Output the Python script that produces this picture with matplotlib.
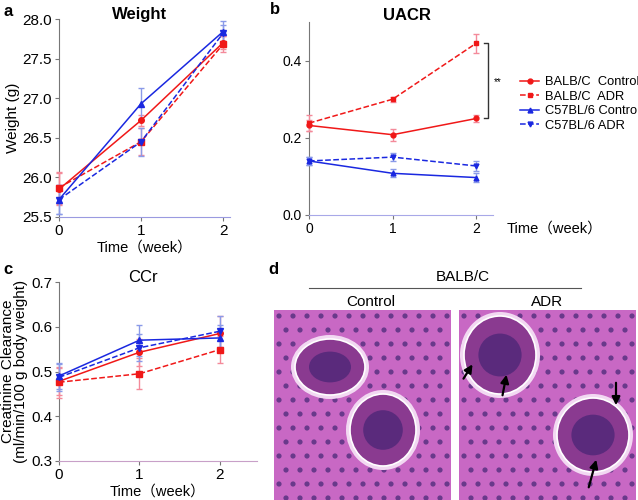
import matplotlib
matplotlib.use("Agg")
import matplotlib.pyplot as plt
from matplotlib.patches import Ellipse, Rectangle, Circle
from matplotlib.lines import Line2D

plt.rcParams['font.family'] = ['Liberation Sans', 'Noto Sans CJK SC', 'DejaVu Sans']

# ---- data ----
weeks = [0, 1, 2]
groups = ["BALB/C  Control", "BALB/C  ADR", "C57BL/6 Control", "C57BL/6 ADR"]

weight = [[25.85, 26.72, 27.70],
          [25.87, 26.45, 27.68],
          [25.72, 26.93, 27.84],
          [25.72, 26.45, 27.82]]
weight_err = [[0.20, 0.07, 0.08],
              [0.20, 0.17, 0.10],
              [0.18, 0.20, 0.14],
              [0.18, 0.18, 0.10]]

uacr = [[0.232, 0.208, 0.250],
        [0.238, 0.300, 0.445],
        [0.140, 0.108, 0.097],
        [0.140, 0.150, 0.127]]
uacr_err = [[0.015, 0.015, 0.008],
            [0.020, 0.006, 0.025],
            [0.010, 0.010, 0.012],
            [0.010, 0.010, 0.012]]

ccr = [[0.478, 0.543, 0.585],
       [0.476, 0.495, 0.549],
       [0.490, 0.570, 0.575],
       [0.487, 0.553, 0.590]]
ccr_err = [[0.030, 0.030, 0.040],
           [0.035, 0.035, 0.030],
           [0.030, 0.035, 0.030],
           [0.030, 0.030, 0.035]]

colors = ["#f01818", "#f01818", "#1a28e0", "#1a28e0"]
ecolors = ["#f48a9a", "#f48a9a", "#8a9ae8", "#8a9ae8"]
styles = ["-", "--", "-", "--"]
markers = ["o", "s", "^", "v"]

W, H = 638, 500
TIME = "Time\uff08week\uff09"


def box(x0, y0, x1, y1):
    # pixel box -> figure fractions
    return [x0 / W, 1 - y1 / H, (x1 - x0) / W, (y1 - y0) / H]


def fig_text(x, y, s, **kw):
    fig.text(x / W, 1 - y / H, s, ha=kw.pop("ha", "center"), va=kw.pop("va", "center"), **kw)


def draw_lines(ax, vals, errs, ms=4):
    for i in range(4):
        ax.errorbar(weeks, vals[i], yerr=errs[i], color=colors[i], ecolor=ecolors[i],
                    ls=styles[i], lw=1.1, marker=markers[i], ms=ms, capsize=2.5,
                    elinewidth=1.0, clip_on=False, zorder=3, label=groups[i])


def style_axes(ax, bottom_color, fs):
    for s in ["top", "right"]:
        ax.spines[s].set_visible(False)
    ax.spines["left"].set_color("#777777")
    ax.spines["bottom"].set_color(bottom_color)
    ax.tick_params(direction="out", length=3, labelsize=fs, color="#777777", pad=2)
    ax.set_xticks([0, 1, 2])


fig = plt.figure(figsize=(6.38, 5.0), dpi=100)

# ---- a: weight ----
ax_a = fig.add_axes(box(59, 19, 230, 217))
draw_lines(ax_a, weight, weight_err)
ax_a.set_xlim(0, 2.085)
ax_a.set_ylim(25.5, 28.0)
ax_a.set_yticks([25.5, 26.0, 26.5, 27.0, 27.5, 28.0])
ax_a.set_yticklabels(["25.5", "26.0", "26.5", "27.0", "27.5", "28.0"])
style_axes(ax_a, "#9a9ae0", 11)
fig_text(140, 15, "Weight", fontsize=12, fontweight="bold")
ax_a.set_ylabel("Weight (g)", fontsize=11, labelpad=2)
ax_a.set_xlabel(TIME, fontsize=10.5, labelpad=2)

# ---- b: UACR ----
ax_b = fig.add_axes(box(309, 22, 493, 215))
draw_lines(ax_b, uacr, uacr_err, ms=3.5)
ax_b.set_xlim(0, 2.2)
ax_b.set_ylim(0, 0.5)
ax_b.set_yticks([0.0, 0.2, 0.4])
ax_b.set_yticklabels(["0.0", "0.2", "0.4"])
style_axes(ax_b, "#a8a8e8", 10)
fig_text(407, 15, "UACR", fontsize=12, fontweight="bold")
fig_text(507, 229, TIME, fontsize=10.5, ha="left")
# significance bracket
bx = 2.14
ax_b.plot([bx - 0.05, bx, bx, bx - 0.05], [uacr[1][2], uacr[1][2], uacr[0][2], uacr[0][2]],
          color="#333333", lw=1.0, clip_on=False)
ax_b.text(bx + 0.07, (uacr[1][2] + uacr[0][2]) / 2 - 0.003, "**", fontsize=7,
          ha="left", va="center", clip_on=False)

leg_handles = [Line2D([], [], color=colors[i], ls=styles[i], marker=markers[i], ms=3.5, lw=1.1)
               for i in range(4)]
fig.legend(leg_handles, groups, loc="upper left", bbox_to_anchor=(520 / W, 1 - 76 / H),
           frameon=False, fontsize=9.3, handlelength=1.5, handletextpad=0.4,
           labelspacing=0.2, borderaxespad=0, borderpad=0)

# ---- c: CCr ----
ax_c = fig.add_axes(box(59, 282, 257, 461))
draw_lines(ax_c, ccr, ccr_err, ms=4)
ax_c.set_xlim(0, 2.46)
ax_c.set_ylim(0.3, 0.7)
ax_c.set_yticks([0.3, 0.4, 0.5, 0.6, 0.7])
style_axes(ax_c, "#c8a0c8", 11)
fig_text(143, 277, "CCr", fontsize=12)
ax_c.set_ylabel("Creatinine Clearance\n(ml/min/100 g body weight)", fontsize=11,
                labelpad=2, linespacing=0.95)
ax_c.set_xlabel(TIME, fontsize=10.5, labelpad=2)

# ---- d: histology panels (schematic) ----
ax_d = fig.add_axes(box(260, 262, 638, 500))
ax_d.set_xlim(260, 638)
ax_d.set_ylim(500, 262)
ax_d.axis("off")
ax_d.text(463, 277, "BALB/C", fontsize=11, ha="center", va="center")
ax_d.plot([309, 581], [288, 288], color="#555555", lw=0.8)
ax_d.text(371, 302, "Control", fontsize=11, ha="center", va="center")
ax_d.text(547, 302, "ADR", fontsize=11, ha="center", va="center")

for x0 in [274, 459]:
    ax_d.add_patch(Rectangle((x0, 310), 177, 190, facecolor="#c868c4", edgecolor="none"))
    # tubule nuclei on a staggered lattice
    for r, yy in enumerate(range(316, 500, 14)):
        for xx in range(x0 + 5 + (r % 2) * 7, x0 + 175, 14):
            ax_d.add_patch(Circle((xx, yy), 2.6, facecolor="#4a2a78", edgecolor="none", alpha=0.75))

gloms = [(330, 367, 70, 56), (383, 430, 66, 72), (500, 355, 72, 78), (593, 435, 72, 74)]
for cx, cy, w, h in gloms:
    ax_d.add_patch(Ellipse((cx, cy), w + 8, h + 8, facecolor="#f2d8f2", edgecolor="none"))
    ax_d.add_patch(Ellipse((cx, cy), w, h, facecolor="#8a3a90", edgecolor="white", lw=1.2))
    ax_d.add_patch(Ellipse((cx, cy), w * 0.6, h * 0.55, facecolor="#3a2070", edgecolor="none",
                           alpha=0.6))

arrows = [((462, 381), (474, 362)), ((502, 398), (507, 372)),
          ((616, 380), (616, 408)), ((588, 490), (597, 457))]
for tail, tip in arrows:
    ax_d.annotate("", xy=tip, xytext=tail,
                  arrowprops=dict(arrowstyle="-|>", color="black", lw=1.6, mutation_scale=12))

# panel letters
for lbl, x, y in [("a", 3, 12), ("b", 270, 10), ("c", 3, 270), ("d", 268, 270)]:
    fig_text(x, y, lbl, fontsize=12, fontweight="bold", ha="left")

fig.savefig("out.png", dpi=100)
